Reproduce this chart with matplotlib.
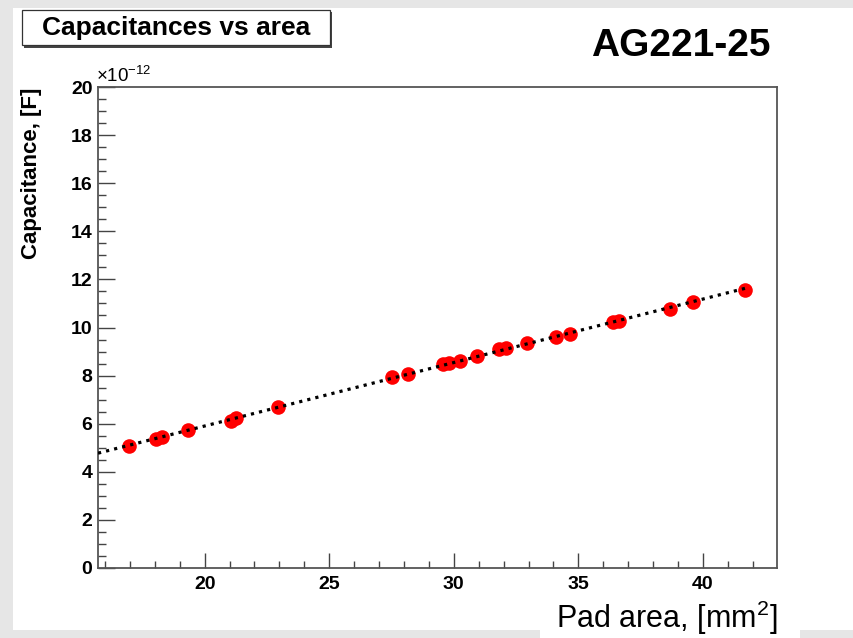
import numpy as np
import matplotlib
matplotlib.use("Agg")
import matplotlib.pyplot as plt
from matplotlib.patches import Rectangle

plt.rcParams['font.family'] = ['Liberation Sans', 'DejaVu Sans']
plt.rcParams['mathtext.fontset'] = 'custom'
plt.rcParams['mathtext.rm'] = 'Liberation Sans'

# Data points (pad area in mm^2, capacitance in units of 1e-12 F)
pad_area = [16.95, 18.03, 18.30, 19.33, 21.07, 21.25, 22.94, 27.53, 28.17,
            29.55, 29.80, 30.24, 30.94, 31.82, 32.09, 32.94, 34.10, 34.66,
            36.37, 36.63, 38.67, 39.61, 41.69]
capacitance = [5.09, 5.35, 5.43, 5.74, 6.11, 6.22, 6.68, 7.93, 8.07,
               8.47, 8.54, 8.61, 8.82, 9.09, 9.16, 9.37, 9.62, 9.73,
               10.22, 10.28, 10.77, 11.07, 11.56]
x_ticks = [20, 25, 30, 35, 40]
y_ticks = [0, 2, 4, 6, 8, 10, 12, 14, 16, 18, 20]

fig = plt.figure(figsize=(8.54, 6.38), dpi=100)
fig.patch.set_facecolor('#e6e6e6')

# white canvas areas
fig.patches.append(Rectangle((13 / 854, 8 / 638), 1, 622 / 638, transform=fig.transFigure,
                             facecolor='white', edgecolor='none', zorder=-2))
fig.patches.append(Rectangle((540 / 854, 0), 260 / 854, 10 / 638, transform=fig.transFigure,
                             facecolor='white', edgecolor='none', zorder=-2))

ax = fig.add_axes([98 / 854, 70 / 638, 679 / 854, 481 / 638])
ax.set_xlim(15.72, 42.97)
ax.set_ylim(0, 20)

# linear fit
coef = np.polyfit(pad_area, capacitance, 1)
xf = np.array([ax.get_xlim()[0], max(pad_area)])
ax.plot(pad_area, capacitance, 'o', color='#ff0000', markersize=10.5, markeredgewidth=0, zorder=3)
ax.plot(xf, np.polyval(coef, xf), color='black', linewidth=2.3,
        linestyle=(0, (1, 1.6)), zorder=4)

ax.set_xticks(x_ticks)
ax.set_yticks(y_ticks)
ax.set_xticks(np.arange(16, 43, 1), minor=True)
ax.set_yticks(np.arange(0, 20.01, 0.5), minor=True)
ax.tick_params(axis='both', which='both', direction='in', color='#444444', width=1,
               top=False, right=False, labelsize=14)
ax.tick_params(axis='x', which='major', length=11, pad=6)
ax.tick_params(axis='x', which='minor', length=5)
ax.tick_params(axis='y', which='major', length=12, pad=4)
ax.tick_params(axis='y', which='minor', length=6)
for lab in ax.get_xticklabels() + ax.get_yticklabels():
    lab.set_fontweight('bold')
for sp in ax.spines.values():
    sp.set_color('#555555')
    sp.set_linewidth(1.3)

ax.set_ylabel('Capacitance, [F]', fontsize=16, fontweight='bold')
ax.yaxis.set_label_coords(-0.083, 0.82)
fig.text(96 / 854, 1 - 86 / 638, r'$\times$10$^{\mathregular{-12}}$', fontsize=13.5, va='bottom', ha='left')

fig.text(777 / 854, 1 - 628 / 638, r'Pad area, [mm$^{\mathregular{2}}$]', fontsize=22,
         ha='right', va='baseline')
fig.text(771 / 854, 1 - 56 / 638, 'AG221-25', fontsize=28, fontweight='bold',
         ha='right', va='baseline')

# title box with shadow
fig.patches.append(Rectangle((24.5 / 854, 1 - 47.5 / 638), 308 / 854, 35 / 638, transform=fig.transFigure,
                             facecolor='#444444', edgecolor='none', zorder=1))
fig.patches.append(Rectangle((22 / 854, 1 - 45 / 638), 308 / 854, 35 / 638, transform=fig.transFigure,
                             facecolor='white', edgecolor='#333333', linewidth=0.9, zorder=2))
fig.text(176 / 854, 1 - 28 / 638, 'Capacitances vs area', fontsize=19, fontweight='bold',
         ha='center', va='center', zorder=3)

fig.savefig('out.png', dpi=100)
